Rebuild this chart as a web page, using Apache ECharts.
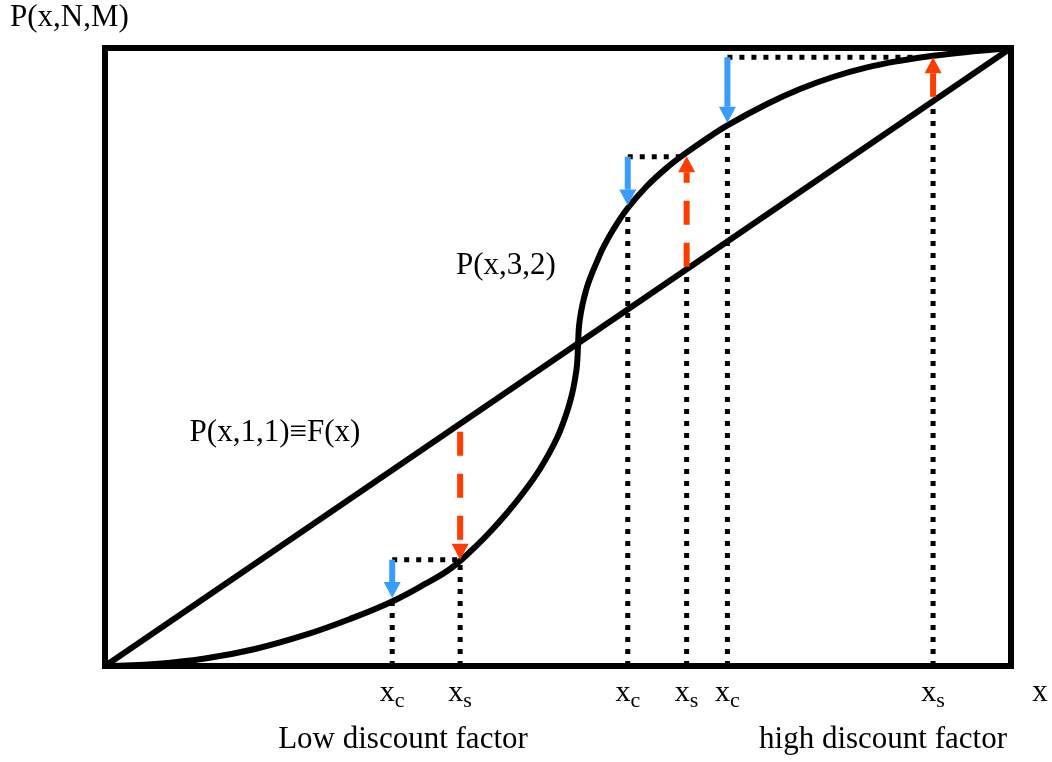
<!DOCTYPE html>
<html><head><meta charset="utf-8">
<script src="https://cdn.jsdelivr.net/npm/echarts@6/dist/echarts.min.js"></script>
<style>html,body{margin:0;padding:0;background:#fff}#c{width:1052px;height:762px}</style>
</head><body><div id="c"></div>
<script>
// ---- data (normalised 0..1 on both axes) ----
const diagonal = [[0, 0], [1, 1]];                       // P(x,1,1) = F(x)
const curveX = [0, 0.0552, 0.1104, 0.1656, 0.2208, 0.2704, 0.3157, 0.3532, 0.3808, 0.4062, 0.4249, 0.4437, 0.4614, 0.4801, 0.4989, 0.5099, 0.5155, 0.5188, 0.5210, 0.5221,
                0.5232, 0.5254, 0.5287, 0.5331, 0.5386, 0.5442, 0.5497, 0.5607, 0.5762, 0.5982, 0.6203, 0.6402, 0.6623, 0.6865, 0.7307, 0.7671, 0.8035, 0.8411, 0.8775, 0.9139, 0.9558, 1];
const curveY = [0, 0.0032, 0.0121, 0.0275, 0.0502, 0.0761, 0.1036, 0.1327, 0.1570, 0.1893, 0.2168, 0.2476, 0.2799, 0.3188, 0.3689, 0.4110, 0.4401, 0.4644, 0.4871, 0.5194,
                0.5502, 0.5728, 0.5955, 0.6181, 0.6392, 0.6586, 0.6764, 0.7055, 0.7395, 0.7767, 0.8065, 0.8290, 0.8516, 0.8744, 0.9094, 0.9337, 0.9531, 0.9686, 0.9793, 0.9874, 0.9942, 1];
const xTickValues = [0.317, 0.392, 0.577, 0.642, 0.687, 0.914];
const xTickSubs = ['c', 's', 'c', 's', 'c', 's'];
// dotted guide segments: [x1, y1, x2, y2]
const dottedSegments = [
  [0.317, 0, 0.317, 0.104],
  [0.317, 0.172, 0.392, 0.172],
  [0.392, 0, 0.392, 0.167],
  [0.577, 0, 0.577, 0.736],
  [0.577, 0.824, 0.642, 0.824],
  [0.642, 0, 0.642, 0.642],
  [0.687, 0, 0.687, 0.871],
  [0.687, 0.985, 0.892, 0.985],
  [0.914, 0, 0.914, 0.914]
];
// arrows: [x, yFrom, yTo]
const blueArrows = [[0.317, 0.172, 0.110], [0.577, 0.824, 0.745], [0.687, 0.985, 0.879]];
const redArrows = [[0.392, 0.379, 0.172], [0.642, 0.646, 0.825], [0.914, 0.921, 0.985]];
const yAxisName = 'P(x,N,M)';
const xAxisName = 'x';
const curveLabel = 'P(x,3,2)';
const lineLabel = 'P(x,1,1)\u2261F(x)';
const lowLabel = 'Low discount factor';
const highLabel = 'high discount factor';

// ---- chart ----
const FONT = '"Liberation Serif", "DejaVu Serif", serif';
const chart = echarts.init(document.getElementById('c'), null, {renderer: 'canvas'});

function arrowRenderer(color, dash) {
  return function (params, api) {
    const x = api.value(0), y0 = api.value(1), y1 = api.value(2);
    const p0 = api.coord([x, y0]), p1 = api.coord([x, y1]);
    const dir = p1[1] > p0[1] ? 1 : -1;
    const H = 16, W = 8.5;
    const base = p1[1] - dir * H;
    return {
      type: 'group',
      children: [
        {type: 'line', shape: {x1: p0[0], y1: p0[1], x2: p0[0], y2: base},
         style: {stroke: color, lineWidth: 6, lineDash: dash, lineCap: 'butt'}},
        {type: 'polygon', shape: {points: [[p1[0] - W, base], [p1[0] + W, base], [p1[0], p1[1]]]},
         style: {fill: color}}
      ]
    };
  };
}

const series = [];
dottedSegments.forEach(function (s) {
  series.push({
    type: 'line', data: [[s[0], s[1]], [s[2], s[3]]], showSymbol: false, symbol: 'none',
    silent: true, z: 1, clip: false,
    lineStyle: {color: '#000', width: 5, type: [5, 7], cap: 'butt'}
  });
});
series.push({
  type: 'line', data: diagonal, showSymbol: false, symbol: 'none', z: 3,
  lineStyle: {color: '#000', width: 6}
});
series.push({
  type: 'line', data: curveX.map(function (x, i) { return [x, curveY[i]]; }),
  smooth: 0.4, showSymbol: false, symbol: 'none', z: 3,
  lineStyle: {color: '#000', width: 6, join: 'round'}
});
series.push({
  type: 'custom', data: blueArrows, encode: {x: 0, y: [1, 2]}, z: 5, clip: false,
  renderItem: arrowRenderer('#3a9cff', null)
});
series.push({
  type: 'custom', data: redArrows, encode: {x: 0, y: [1, 2]}, z: 5, clip: false,
  renderItem: arrowRenderer('#ff3c00', [24, 18])
});

function txt(text, x, y, align) {
  return {type: 'text', x: x, y: y, z: 10,
    style: {text: text, fill: '#000', font: '31px ' + FONT, fontSize: 31, fontFamily: FONT,
      align: align, verticalAlign: 'middle', textAlign: align, textVerticalAlign: 'middle'}};
}

chart.setOption({
  animation: false,
  backgroundColor: '#fff',
  grid: {left: 105, right: 41, top: 48, bottom: 96, show: true, borderColor: '#000', borderWidth: 6, backgroundColor: 'transparent'},
  xAxis: {
    type: 'value', min: 0, max: 1,
    axisLine: {show: false}, axisTick: {show: false}, splitLine: {show: false},
    axisLabel: {
      customValues: xTickValues, margin: 8, color: '#000',
      formatter: function (v) {
        let idx = 0, best = 1e9;
        xTickValues.forEach(function (t, i) { const d = Math.abs(t - v); if (d < best) { best = d; idx = i; } });
        return '{m|x}{s|' + xTickSubs[idx] + '}';
      },
      rich: {
        m: {fontSize: 30, fontFamily: FONT, color: '#000', lineHeight: 38},
        s: {fontSize: 22, fontFamily: FONT, color: '#000', lineHeight: 38, verticalAlign: 'bottom'}
      }
    }
  },
  yAxis: {
    type: 'value', min: 0, max: 1,
    axisLine: {show: false}, axisTick: {show: false}, splitLine: {show: false}, axisLabel: {show: false}
  },
  graphic: [
    txt(yAxisName, 10, 18, 'left'),
    txt(curveLabel, 506, 266, 'center'),
    txt(lineLabel, 275, 433, 'center'),
    txt(xAxisName, 1040, 693, 'center'),
    txt(lowLabel, 403, 740, 'center'),
    txt(highLabel, 883, 740, 'center')
  ],
  series: series
});
</script>
</body></html>
